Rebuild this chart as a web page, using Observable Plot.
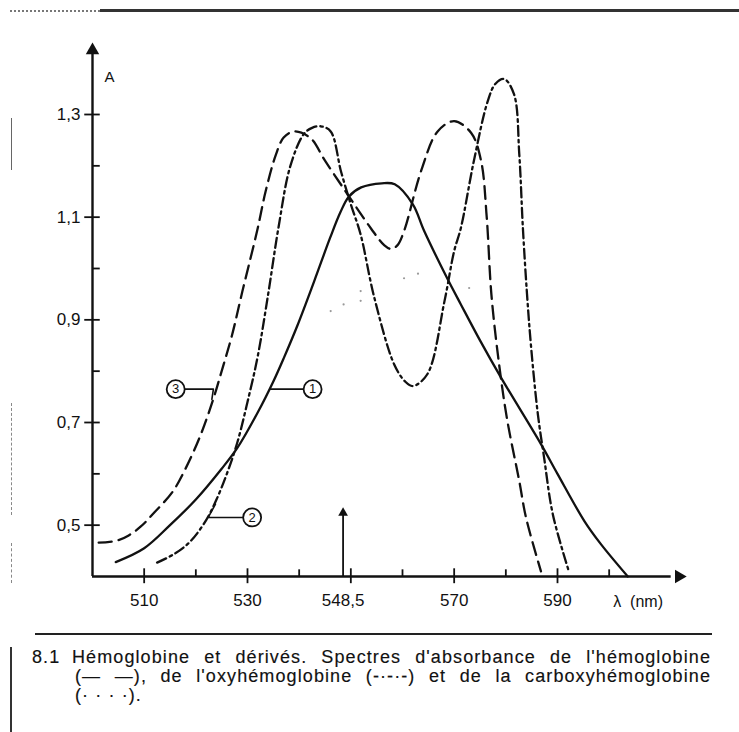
<!DOCTYPE html>
<html>
<head>
<meta charset="utf-8">
<script src="https://cdn.jsdelivr.net/npm/d3@7"></script>
<script src="https://cdn.jsdelivr.net/npm/@observablehq/plot@0.6"></script>
<style>
  html, body { margin: 0; padding: 0; background: #fff; }
  body { width: 739px; height: 732px; position: relative; overflow: hidden; font-family: "Liberation Sans", Arial, sans-serif; color: #111; }
  #chart { position: absolute; left: 0; top: 0; }
  .deco { position: absolute; }
  #caption { position: absolute; left: 0; top: 633px; width: 739px; }
  #rule { position: absolute; left: 35px; width: 677px; top: 0; border-top: 2px solid #222; }
  .cl { position: absolute; font-size: 18px; line-height: 19px; white-space: nowrap; letter-spacing: 1.1px; -webkit-text-stroke: 0.15px #111; }
  .just { text-align: justify; text-align-last: justify; }
</style>
</head>
<body>
<div id="chart"></div>
<div class="deco" style="left:10px;top:10px;width:90px;border-top:2px dotted #777;"></div>
<div class="deco" style="left:100px;top:9px;width:639px;border-top:3px solid #333;"></div>
<div class="deco" style="left:11px;top:118px;height:52px;border-left:1px solid #666;"></div>
<div class="deco" style="left:11px;top:403px;height:112px;border-left:1px dashed #888;"></div>
<div class="deco" style="left:11px;top:543px;height:40px;border-left:1px dashed #888;"></div>
<div class="deco" style="left:10px;top:647px;height:85px;border-left:2px solid #333;"></div>
<div id="caption">
  <div id="rule"></div>
  <div class="cl" style="left:32px;top:15px;">8.1</div>
  <div class="cl just" style="left:72px;top:15px;width:639px;">Hémoglobine et dérivés. Spectres d'absorbance de l'hémoglobine</div>
  <div class="cl just" style="left:75px;top:34px;width:636px;">(— —), de l'oxyhémoglobine (-·-·-) et de la carboxyhémoglobine</div>
  <div class="cl" style="left:75px;top:53px;">(· · · ·).</div>
</div>
<script>
// ---- Data ----
// Curve 1 (solid): hémoglobine
const hbLambda = [504.5, 510, 515, 520, 525, 528, 532, 535, 537, 539.7, 542.9, 546, 548, 549.6, 552, 556, 558.5, 562, 564.2, 568.7, 571.3, 575, 579.1, 586.8, 590, 595.2, 598.4, 603.6];
const hbA      = [0.428, 0.455, 0.50, 0.55, 0.61, 0.65, 0.72, 0.78, 0.825, 0.89, 0.975, 1.06, 1.11, 1.14, 1.158, 1.166, 1.164, 1.125, 1.073, 0.98, 0.93, 0.86, 0.787, 0.658, 0.60, 0.508, 0.463, 0.40];
// Curve 2 (dash-dot): oxyhémoglobine
const hbo2Lambda = [512.5, 516, 519, 522, 524, 526, 528, 530, 532, 534, 536, 538.3, 540.9, 542.5, 544.2, 546.1, 548.1, 550, 551.9, 554.5, 558.4, 560.5, 562, 564.8, 568.1, 570, 571.3, 573.8, 576.5, 578, 579.7, 581.6, 582.6, 583.3, 584.1, 584.9, 586.2, 587.4, 589.1, 592.2];
const hbo2A      = [0.427, 0.445, 0.469, 0.51, 0.55, 0.60, 0.66, 0.74, 0.83, 0.95, 1.08, 1.20, 1.262, 1.274, 1.277, 1.267, 1.189, 1.125, 1.066, 0.945, 0.813, 0.78, 0.771, 0.794, 0.935, 1.034, 1.079, 1.209, 1.326, 1.36, 1.369, 1.339, 1.223, 1.079, 0.95, 0.846, 0.716, 0.632, 0.521, 0.41];
// Curve 3 (dashed): carboxyhémoglobine
const hbcoLambda = [501.2, 504.8, 507, 509.3, 512, 515.5, 518, 520.9, 523.2, 525, 527, 529, 531.9, 533.5, 535.5, 537, 539, 542.2, 545, 549.4, 553.9, 556.5, 557.8, 559, 560.3, 563.6, 566.8, 570, 573.3, 575.2, 576.3, 577.2, 578.7, 580.3, 582.6, 583.9, 586.8];
const hbcoA      = [0.466, 0.47, 0.48, 0.497, 0.525, 0.565, 0.61, 0.675, 0.74, 0.80, 0.87, 0.955, 1.075, 1.15, 1.222, 1.255, 1.267, 1.254, 1.21, 1.144, 1.078, 1.045, 1.038, 1.045, 1.073, 1.19, 1.267, 1.287, 1.264, 1.21, 1.10, 0.95, 0.813, 0.703, 0.586, 0.515, 0.41];
// Faint dotted fragment visible in the print
const faintLambda = [546.1, 548.6, 551.9, 551.9, 560.3, 563, 572.9];
const faintA      = [0.917, 0.93, 0.956, 0.937, 0.981, 0.99, 0.962];

// Axes
const xMajor = [510, 530, 550, 570, 590];
const xMinor = [520, 540, 560, 580, 600];
const xTickLabels = [510, 530, 548.5, 570, 590];
const yMajor = [0.5, 0.7, 0.9, 1.1, 1.3];
const yMinor = [0.6, 0.8, 1.0, 1.2];
const markerLambda = 548.5;

// Curve labels (circled numbers) and leader lines
const curveLabels = [
  {id: "1", x: 542.6, y: 0.765},
  {id: "2", x: 530.9, y: 0.515},
  {id: "3", x: 516.1, y: 0.765}
];
const leaders = [
  {id: "1", pts: [[534.3, 0.765], [540.8, 0.765]]},
  {id: "2", pts: [[529.1, 0.515], [522.4, 0.515], [523.8, 0.541]]},
  {id: "3", pts: [[517.9, 0.765], [523.4, 0.765], [523.1, 0.745]]}
];

const zip = (xs, ys) => xs.map((x, i) => ({x, y: ys[i]}));
const hb = zip(hbLambda, hbA);
const hbo2 = zip(hbo2Lambda, hbo2A);
const hbco = zip(hbcoLambda, hbcoA);
const faint = zip(faintLambda, faintA);
const leaderData = leaders.flatMap(l => l.pts.map(([x, y]) => ({id: l.id, x, y})));

const ink = "#111";
const sw = 2.3;
const fmt = d => String(d).replace(".", ",");

const chart = Plot.plot({
  width: 739,
  height: 625,
  marginLeft: 92,
  marginRight: 27,
  marginTop: 37,
  marginBottom: 49,
  style: {fontFamily: "Liberation Sans, Arial, sans-serif", fontSize: "17px", color: ink, background: "transparent", overflow: "visible"},
  x: {domain: [500, 620], ticks: xTickLabels, tickFormat: fmt, tickSize: 0, tickPadding: 17, label: null},
  y: {domain: [0.4, 1.45], ticks: yMajor, tickFormat: fmt, tickSize: 0, tickPadding: 12, label: null},
  marks: [
    // axis lines
    Plot.ruleY([0.4], {x1: 500, x2: 612, stroke: ink, strokeWidth: 2.4}),
    Plot.ruleX([500], {y1: 0.4, y2: 1.42, stroke: ink, strokeWidth: 2.4}),
    // ticks
    Plot.ruleX(xMajor, {y1: 0.386, y2: 0.415, stroke: ink, strokeWidth: 1.8}),
    Plot.ruleX(xMinor, {y1: 0.4, y2: 0.413, stroke: ink, strokeWidth: 1.8}),
    Plot.ruleY(yMajor, {x1: 498.5, x2: 501.5, stroke: ink, strokeWidth: 1.8}),
    Plot.ruleY(yMinor, {x1: 500, x2: 501.5, stroke: ink, strokeWidth: 1.8}),
    // axis arrowheads
    Plot.dot([{x: 500, y: 1.425}], {x: "x", y: "y", symbol: "triangle", r: 5, fill: ink, stroke: null}),
    Plot.dot([{x: 613.5, y: 0.4}], {x: "x", y: "y", symbol: "triangle", r: 5, fill: ink, stroke: null, rotate: 90}),
    // marker at 548,5
    Plot.ruleX([markerLambda], {y1: 0.4, y2: 0.52, stroke: ink, strokeWidth: 1.8}),
    Plot.dot([{x: markerLambda, y: 0.524}], {x: "x", y: "y", symbol: "triangle", r: 3.6, fill: ink, stroke: null}),
    // axis titles
    Plot.text(["A"], {x: 503.3, y: 1.373, text: d => d, fontSize: 15, fill: ink}),
    Plot.text(["λ  (nm)"], {x: 605.6, y: 0.351, text: d => d, fontSize: 16, fill: ink}),
    // faint dotted fragment
    Plot.dot(faint, {x: "x", y: "y", r: 1.1, fill: "#999", stroke: null}),
    // curves
    Plot.line(hb, {x: "x", y: "y", curve: "catmull-rom", stroke: ink, strokeWidth: sw}),
    Plot.line(hbo2, {x: "x", y: "y", curve: "catmull-rom", stroke: ink, strokeWidth: sw, strokeDasharray: "10,4,2.5,4"}),
    Plot.line(hbco, {x: "x", y: "y", curve: "catmull-rom", stroke: ink, strokeWidth: sw, strokeDasharray: "13,7"}),
    // labels
    Plot.line(leaderData, {x: "x", y: "y", z: "id", stroke: ink, strokeWidth: 1.6}),
    Plot.dot(curveLabels, {x: "x", y: "y", r: 9, fill: "white", stroke: ink, strokeWidth: 1.8}),
    Plot.text(curveLabels, {x: "x", y: "y", text: "id", fontSize: 13, fill: ink})
  ]
});
document.getElementById("chart").appendChild(chart);
</script>
</body>
</html>
